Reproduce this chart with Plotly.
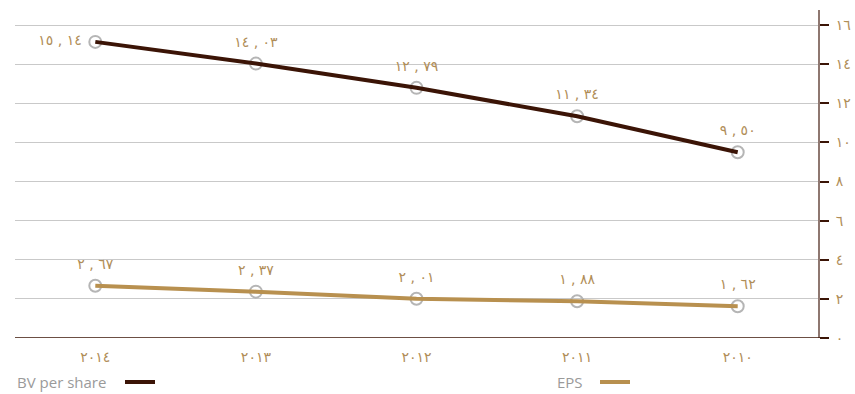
import plotly.graph_objects as go

years = ["2014", "2013", "2012", "2011", "2010"]
bv_per_share = [15.14, 14.03, 12.79, 11.34, 9.50]
eps = [2.67, 2.37, 2.01, 1.88, 1.62]
y_ticks = [0, 2, 4, 6, 8, 10, 12, 14, 16]

AR = str.maketrans("0123456789", "٠١٢٣٤٥٦٧٨٩")
LRM = "\u200e"


def ar(s):
    return str(s).translate(AR)


def ar_num(v):
    a, b = f"{v:.2f}".split(".")
    return ar(a) + LRM + " , " + LRM + ar(b)


BV_COL = "#3b1406"
EPS_COL = "#b8904f"
TXT_COL = "#b08d57"
GRID_COL = "#c9c9c9"
MARK_COL = "#b5b5b5"

x_labels = [ar(y) for y in years]

fig = go.Figure()

for vals, col in [(bv_per_share, BV_COL), (eps, EPS_COL)]:
    fig.add_trace(go.Scatter(
        x=x_labels, y=vals, mode="markers",
        marker=dict(symbol="circle-open", size=12, color=MARK_COL, line=dict(width=2, color=MARK_COL)),
        hoverinfo="skip", showlegend=False, cliponaxis=False))
    fig.add_trace(go.Scatter(
        x=x_labels, y=vals, mode="lines",
        line=dict(color=col, width=4), showlegend=False, cliponaxis=False))

# value labels
for vals in (bv_per_share, eps):
    pos = ["middle left" if (vals is bv_per_share and i == 0) else "top center" for i in range(len(vals))]
    fig.add_trace(go.Scatter(
        x=x_labels, y=vals, mode="markers+text",
        marker=dict(size=20, opacity=0),
        text=[ar_num(v) for v in vals],
        textposition=pos,
        textfont=dict(family="DejaVu Sans", size=14, color=TXT_COL),
        showlegend=False, cliponaxis=False, hoverinfo="skip"))

LEG_Y = -44 / 328

fig.update_layout(
    width=855, height=394,
    margin=dict(l=15, r=37, t=10, b=56),
    paper_bgcolor="white", plot_bgcolor="white",
    font=dict(family="DejaVu Sans", color=TXT_COL, size=13),
    xaxis=dict(
        type="category", range=[-0.5, 4.5], showgrid=False, showline=False,
        zeroline=False, ticks="", ticklabelstandoff=9, automargin=False,
        tickfont=dict(family="DejaVu Sans", size=14, color=TXT_COL),
        fixedrange=True,
    ),
    yaxis=dict(
        side="right", range=[0, 16.77], tickvals=y_ticks, ticktext=[ar(t) for t in y_ticks],
        showgrid=True, gridcolor=GRID_COL, gridwidth=1, zeroline=False,
        showline=True, linecolor="#8e7770", linewidth=2,
        ticks="outside", ticklen=9, tickcolor=BV_COL, tickwidth=1.5,
        ticklabelstandoff=4, automargin=False,
        tickfont=dict(family="DejaVu Sans", size=14, color=TXT_COL),
    ),
    shapes=[
        dict(type="line", xref="paper", yref="y", x0=0, x1=1 + 9 / 803, y0=0, y1=0,
             line=dict(color=BV_COL, width=1.5)),
        dict(type="line", xref="paper", yref="paper", x0=(125 - 15) / 803, x1=(155 - 15) / 803,
             y0=LEG_Y, y1=LEG_Y, line=dict(color=BV_COL, width=4)),
        dict(type="line", xref="paper", yref="paper", x0=(600 - 15) / 803, x1=(630 - 15) / 803,
             y0=LEG_Y, y1=LEG_Y, line=dict(color=EPS_COL, width=4)),
    ],
    annotations=[
        dict(text="BV per share", xref="paper", yref="paper", x=0, y=LEG_Y,
             xanchor="left", yanchor="middle", showarrow=False,
             font=dict(family="Open Sans", size=15, color="#9a9a9a")),
        dict(text="EPS", xref="paper", yref="paper", x=(555 - 15) / 803, y=LEG_Y,
             xanchor="left", yanchor="middle", showarrow=False,
             font=dict(family="Open Sans", size=15, color="#9a9a9a")),
    ],
)

fig.write_html("out.html")
